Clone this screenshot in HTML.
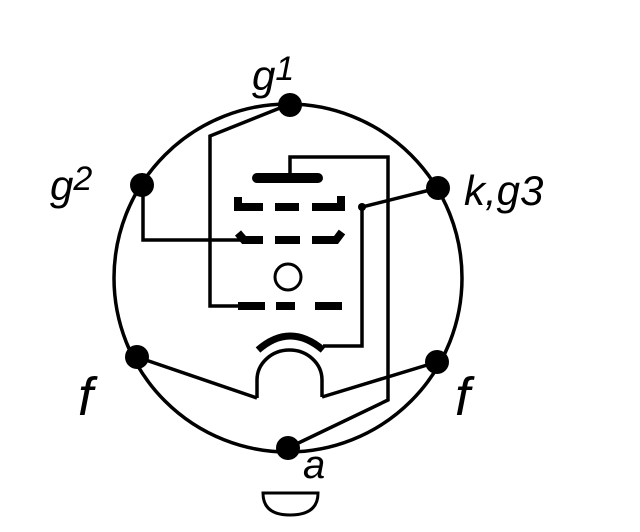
<!DOCTYPE html>
<html><head><style>body{margin:0;background:#fff}svg{display:block}</style></head><body>
<svg width="640" height="532" viewBox="0 0 640 532" xmlns="http://www.w3.org/2000/svg">
<rect width="640" height="532" fill="#fff"/>
<g fill="none" stroke="#000" stroke-width="3.5">
<circle cx="288" cy="278" r="174"/>
<polyline points="290,104 210,136 210,306 240,306"/>
<polyline points="143,186 143,240 242,240"/>
<polyline points="438,188 362,207 362,346 323,346"/>
<polyline points="290,177 290,157 388,157 388,400 288,448"/>
<line x1="137" y1="357" x2="257" y2="398"/>
<line x1="437" y1="362" x2="322" y2="397"/>
<path d="M257,398 V380 A32.5,30 0 0 1 322,380 V397"/>
</g>
<g stroke="#000" stroke-width="8" fill="none" stroke-linecap="butt">
<path d="M258,350 Q290,322 323,350" stroke-width="7"/>
<line x1="257" y1="178" x2="318" y2="178" stroke-width="10" stroke-linecap="round"/>
<path d="M238,197 V207 H263"/>
<line x1="275" y1="207" x2="299" y2="207"/>
<path d="M312,207 H341 V196"/>
<path d="M238,233 L244,240 H263"/>
<line x1="275" y1="240" x2="300" y2="240"/>
<path d="M312,240 H336 L342,232"/>
<line x1="238" y1="306" x2="265" y2="306"/>
<line x1="276" y1="306" x2="295" y2="306"/>
<line x1="315" y1="306" x2="342" y2="306"/>
</g>
<circle cx="288" cy="277" r="13" fill="none" stroke="#000" stroke-width="3"/>
<g fill="#000">
<circle cx="290" cy="105" r="12"/>
<circle cx="142" cy="185" r="12"/>
<circle cx="438" cy="188" r="12"/>
<circle cx="137" cy="357" r="12"/>
<circle cx="437" cy="362" r="12"/>
<circle cx="288" cy="448" r="12"/>
<circle cx="362" cy="207" r="4"/>
</g>
<path d="M263,493 H318 Q318,515 290,515 Q263,515 263,493 Z" fill="none" stroke="#000" stroke-width="3"/>
<g font-family="Liberation Sans, sans-serif" font-style="italic" font-size="42" fill="#000">
<text x="252" y="90">g<tspan font-size="34" dy="-10">1</tspan></text>
<text x="50" y="200">g<tspan font-size="34" dy="-10">2</tspan></text>
<text x="464" y="205">k,g3</text>
<text x="78" y="415" font-size="54">f</text>
<text x="455" y="415" font-size="54">f</text>
<text x="303" y="478" font-size="40">a</text>
</g>
</svg>
</body></html>
